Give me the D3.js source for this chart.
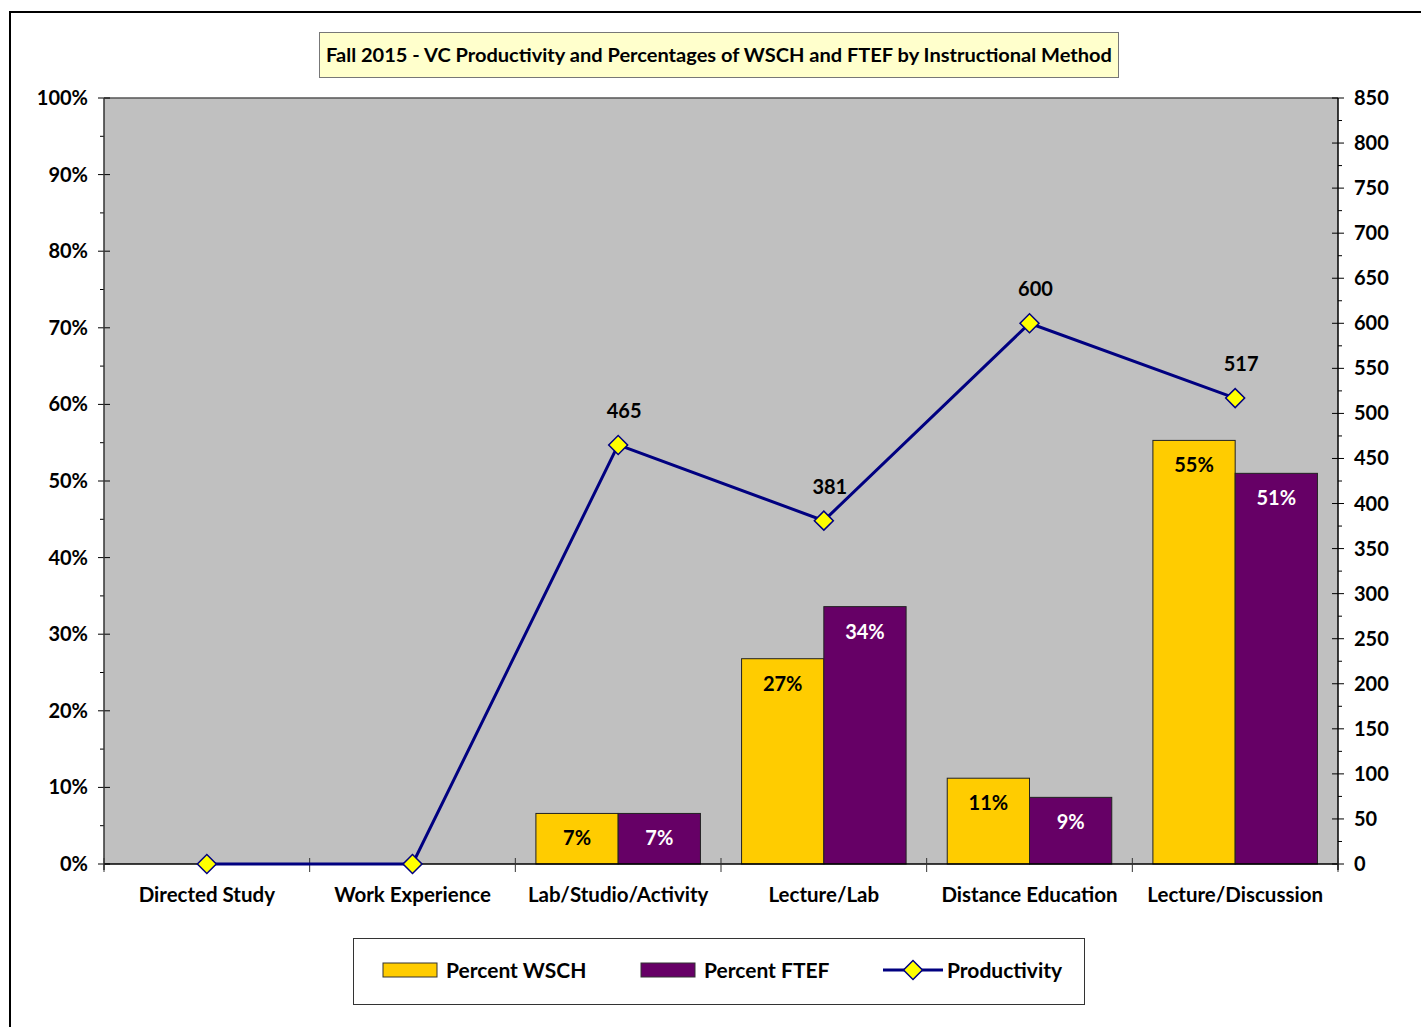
<!DOCTYPE html>
<html>
<head>
<meta charset="utf-8">
<script src="https://cdn.jsdelivr.net/npm/d3@7"></script>
<style>
  body { margin: 0; background: #fff; }
  text { font-family: Lato, "Open Sans", sans-serif; font-weight: bold; }
</style>
</head>
<body>
<svg id="canvas"></svg>
<script>
let svg = d3.select("#canvas");

svg.attr('width', 1421)
    .attr('height', 1027)

let title = "Fall 2015 - VC Productivity and Percentages of WSCH and FTEF by Instructional Method";
let categories = ["Directed Study", "Work Experience", "Lab/Studio/Activity", "Lecture/Lab", "Distance Education", "Lecture/Discussion"];
let wsch = [null, null, 0.066, 0.268, 0.112, 0.553];
let ftef = [null, null, 0.066, 0.336, 0.087, 0.51];
let productivity = [0, 0, 465, 381, 600, 517];

let plotLeft = 104, plotRight = 1338, plotTop = 98, plotBottom = 864;

// outer frame
svg.append('rect')
  .attr('x', 10).attr('y', 12)
  .attr('width', 1430).attr('height', 1040)
  .attr('fill', 'white')
  .attr('stroke', 'black')
  .attr('stroke-width', 2);

let x = d3.scaleBand().domain(categories).range([plotLeft, plotRight]);
let yPct = d3.scaleLinear().domain([0, 1]).range([plotBottom, plotTop]);
let yProd = d3.scaleLinear().domain([0, 850]).range([plotBottom, plotTop]);

// plot area
svg.append('rect')
  .attr('x', plotLeft).attr('y', plotTop)
  .attr('width', plotRight - plotLeft).attr('height', plotBottom - plotTop)
  .attr('fill', '#C0C0C0');
svg.append('line')
  .attr('x1', plotLeft).attr('x2', plotRight)
  .attr('y1', plotTop).attr('y2', plotTop)
  .attr('stroke', '#555').attr('stroke-width', 1.5);

// title box
svg.append('rect')
  .attr('x', 319.5).attr('y', 32.5)
  .attr('width', 799).attr('height', 45)
  .attr('fill', '#FFFFCC')
  .attr('stroke', '#777');
svg.append('text')
  .attr('x', 719).attr('y', 62)
  .attr('text-anchor', 'middle')
  .attr('font-size', 19)
  .attr('textLength', 786)
  .attr('lengthAdjust', 'spacingAndGlyphs')
  .text(title);

// left axis
let yLeftMinor = d3.range(0, 1.0001, 0.05);
svg.append('g').selectAll('line')
  .data(yLeftMinor)
  .join('line')
  .attr('x1', (d, i) => i % 2 == 0 ? plotLeft - 6 : plotLeft - 4)
  .attr('x2', (d, i) => i % 2 == 0 ? plotLeft + 6 : plotLeft)
  .attr('y1', d => yPct(d)).attr('y2', d => yPct(d))
  .attr('stroke', 'black');
svg.append('g').selectAll('text')
  .data(d3.range(0, 1.0001, 0.1))
  .join('text')
  .attr('x', 88)
  .attr('y', d => yPct(d) + 7)
  .attr('text-anchor', 'end')
  .attr('font-size', 20)
  .text(d => d3.format('.0%')(d));
svg.append('line')
  .attr('x1', plotLeft).attr('x2', plotLeft)
  .attr('y1', plotTop).attr('y2', plotBottom + 6)
  .attr('stroke', '#333').attr('stroke-width', 1.5);

// right axis
let yRightMinor = d3.range(0, 851, 25);
svg.append('g').selectAll('line')
  .data(yRightMinor)
  .join('line')
  .attr('x1', (d, i) => i % 2 == 0 ? plotRight - 6 : plotRight)
  .attr('x2', (d, i) => i % 2 == 0 ? plotRight + 6 : plotRight + 4)
  .attr('y1', d => yProd(d)).attr('y2', d => yProd(d))
  .attr('stroke', 'black');
svg.append('g').selectAll('text')
  .data(d3.range(0, 851, 50))
  .join('text')
  .attr('x', 1354)
  .attr('y', d => yProd(d) + 7)
  .attr('text-anchor', 'start')
  .attr('font-size', 20)
  .text(d => d);
svg.append('line')
  .attr('x1', plotRight).attr('x2', plotRight)
  .attr('y1', plotTop).attr('y2', plotBottom + 6)
  .attr('stroke', 'black').attr('stroke-width', 1.5);

// bars
let inner = d3.scaleBand().domain(['wsch', 'ftef']).range([0, x.bandwidth()]).paddingOuter(0.25).paddingInner(0);
let barData = [];
categories.forEach((c, i) => {
  if (wsch[i] != null) barData.push({ cat: c, key: 'wsch', v: wsch[i] });
  if (ftef[i] != null) barData.push({ cat: c, key: 'ftef', v: ftef[i] });
});
let colors = { wsch: '#FFCC00', ftef: '#660066' };
let labelColors = { wsch: 'black', ftef: 'white' };

svg.append('g').selectAll('rect')
  .data(barData)
  .join('rect')
  .attr('x', d => x(d.cat) + inner(d.key))
  .attr('y', d => yPct(d.v))
  .attr('width', inner.bandwidth())
  .attr('height', d => plotBottom - yPct(d.v))
  .attr('fill', d => colors[d.key])
  .attr('stroke', '#222')
  .attr('stroke-width', 1);

svg.append('g').selectAll('text')
  .data(barData)
  .join('text')
  .attr('x', d => x(d.cat) + inner(d.key) + inner.bandwidth() / 2)
  .attr('y', d => yPct(d.v) + 32)
  .attr('text-anchor', 'middle')
  .attr('font-size', 20)
  .attr('fill', d => labelColors[d.key])
  .text(d => d3.format('.0%')(d.v));

// bottom axis
svg.append('line')
  .attr('x1', plotLeft).attr('x2', plotRight)
  .attr('y1', plotBottom).attr('y2', plotBottom)
  .attr('stroke', 'black').attr('stroke-width', 1.5);
svg.append('g').selectAll('line')
  .data(d3.range(categories.length + 1))
  .join('line')
  .attr('x1', i => i < categories.length ? x(categories[i]) : plotRight)
  .attr('x2', i => i < categories.length ? x(categories[i]) : plotRight)
  .attr('y1', plotBottom - 6).attr('y2', plotBottom + 8)
  .attr('stroke', '#333');
svg.append('g').selectAll('text')
  .data(categories)
  .join('text')
  .attr('x', d => x(d) + x.bandwidth() / 2)
  .attr('y', 902)
  .attr('text-anchor', 'middle')
  .attr('font-size', 20.5)
  .text(d => d);

// productivity line
let cx = (d, i) => x(categories[i]) + x.bandwidth() / 2;
let line = d3.line()
  .x(cx)
  .y(d => yProd(d));
svg.append('path')
  .datum(productivity)
  .attr('d', line)
  .attr('fill', 'none')
  .attr('stroke', '#000080')
  .attr('stroke-width', 3);

let diamond = d3.symbol().type(d3.symbolSquare).size(180);
svg.append('g').selectAll('path')
  .data(productivity)
  .join('path')
  .attr('d', diamond)
  .attr('transform', (d, i) => `translate(${cx(d, i)},${yProd(d)}) rotate(45)`)
  .attr('fill', '#FFFF00')
  .attr('stroke', '#000080')
  .attr('stroke-width', 1.5);

svg.append('g').selectAll('text')
  .data(productivity)
  .join('text')
  .attr('x', (d, i) => cx(d, i) + 6)
  .attr('y', d => yProd(d) - 27)
  .attr('text-anchor', 'middle')
  .attr('font-size', 20)
  .text(d => d > 0 ? d : '');

// legend
let legend = svg.append('g');
legend.append('rect')
  .attr('x', 353.5).attr('y', 938.5)
  .attr('width', 731).attr('height', 66)
  .attr('fill', 'white')
  .attr('stroke', '#333');
let legendItems = [
  { label: 'Percent WSCH', key: 'wsch', x: 383 },
  { label: 'Percent FTEF', key: 'ftef', x: 641 }
];
legend.selectAll('rect.sw')
  .data(legendItems)
  .join('rect')
  .attr('class', 'sw')
  .attr('x', d => d.x).attr('y', 963)
  .attr('width', 54).attr('height', 14)
  .attr('fill', d => colors[d.key])
  .attr('stroke', '#333');
legend.selectAll('text.lt')
  .data(legendItems)
  .join('text')
  .attr('class', 'lt')
  .attr('x', d => d.x + 63).attr('y', 978)
  .attr('font-size', 21)
  .text(d => d.label);
legend.append('line')
  .attr('x1', 883).attr('x2', 943)
  .attr('y1', 970).attr('y2', 970)
  .attr('stroke', '#000080').attr('stroke-width', 3);
legend.append('path')
  .attr('d', diamond)
  .attr('transform', 'translate(913,970) rotate(45)')
  .attr('fill', '#FFFF00')
  .attr('stroke', '#000080')
  .attr('stroke-width', 1.5);
legend.append('text')
  .attr('x', 947).attr('y', 978)
  .attr('font-size', 21)
  .text('Productivity');
</script>
</body>
</html>
